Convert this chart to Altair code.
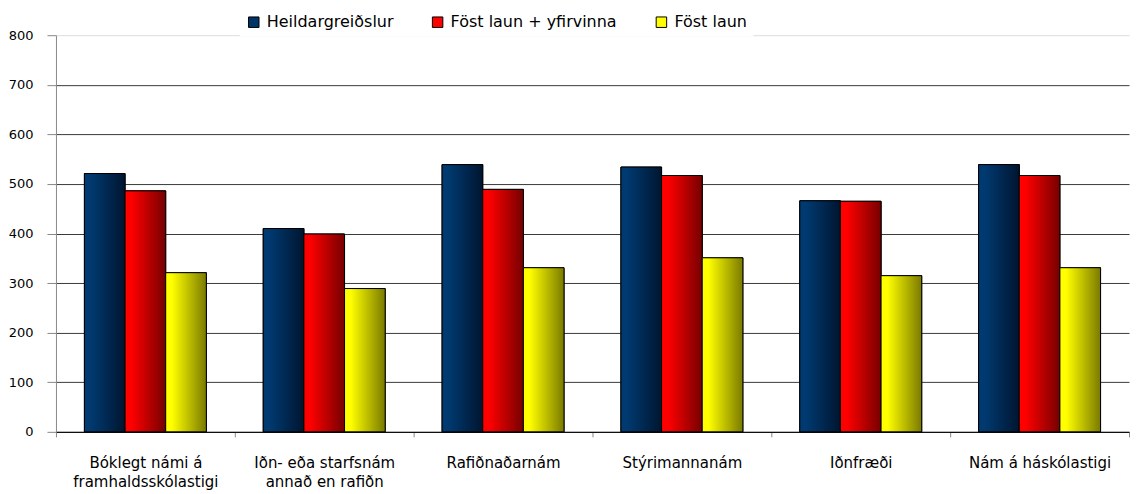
import altair as alt
import pandas as pd

categories = [
    "Bóklegt námi á|framhaldsskólastigi",
    "Iðn- eða starfsnám|annað en rafiðn",
    "Rafiðnaðarnám",
    "Stýrimannanám",
    "Iðnfræði",
    "Nám á háskólastigi",
]
series_names = ["Heildargreiðslur", "Föst laun + yfirvinna", "Föst laun"]
heildargreidslur = [521, 410, 539, 534, 466, 539]
fost_laun_yfirvinna = [486, 399, 489, 517, 465, 517]
fost_laun = [321, 289, 331, 351, 315, 331]
y_ticks = [0, 100, 200, 300, 400, 500, 600, 700, 800]

solid_colors = ["#003366", "#ff0000", "#ffff00"]
gradient_stops = [
    ("#003a70", "#001530"),
    ("#ff0000", "#760000"),
    ("#ffff00", "#7a7a00"),
]

rows = []
for name, vals in zip(series_names, [heildargreidslur, fost_laun_yfirvinna, fost_laun]):
    for c, v in zip(categories, vals):
        rows.append({"category": c, "series": name, "value": v})
df = pd.DataFrame(rows)

FONT = "DejaVu Sans"

base = alt.Chart(df).encode(
    x=alt.X(
        "category:N",
        sort=categories,
        scale=alt.Scale(paddingInner=0, paddingOuter=0),
        axis=alt.Axis(
            title=None,
            labelAngle=0,
            tickBand="extent",
            labelExpr="split(datum.label, '|')",
            labelFont=FONT,
            labelFontSize=15,
            labelLineHeight=19,
            labelColor="#000000",
            labelPadding=19,
            labelLimit=300,
            domainColor="#000000",
            tickColor="#888888",
            tickSize=5,
            grid=False,
        ),
    ),
    xOffset=alt.XOffset(
        "series:N",
        sort=series_names,
        scale=alt.Scale(domain=series_names, paddingOuter=0.7, paddingInner=0),
    ),
    y=alt.Y(
        "value:Q",
        scale=alt.Scale(domain=[0, 800]),
        axis=alt.Axis(
            title=None,
            values=y_ticks,
            labelFont=FONT,
            labelFontSize=13,
            labelColor="#000000",
            labelPadding=14,
            tickColor="#888888",
            tickSize=9,
            domainColor="#888888",
            grid=True,
            gridColor={"condition": {"test": "datum.value === 800", "value": "#dddddd"}, "value": "#3a3a3a"},
        ),
    ),
)

legend_layer = base.mark_bar(stroke="#000000", strokeWidth=1).encode(
    color=alt.Color(
        "series:N",
        sort=series_names,
        scale=alt.Scale(domain=series_names, range=solid_colors),
        legend=alt.Legend(
            title=None,
            orient="none",
            direction="horizontal",
            legendX=184,
            legendY=-27,
            fillColor="#ffffff",
            padding=6,
            labelFont=FONT,
            labelFontSize=16,
            labelColor="#000000",
            labelLimit=400,
            labelOffset=5,
            columnPadding=36,
            symbolType="square",
            symbolSize=110,
            symbolStrokeColor="#000000",
            symbolStrokeWidth=1,
            symbolOpacity=1,
        ),
    )
)

layers = [legend_layer]
for name, (c1, c2) in zip(series_names, gradient_stops):
    grad = alt.LinearGradient(
        gradient="linear",
        stops=[
            alt.GradientStop(color=c1, offset=0),
            alt.GradientStop(color=c1, offset=0.15),
            alt.GradientStop(color=c2, offset=1),
        ],
        x1=0, x2=1, y1=0, y2=0,
    )
    layers.append(
        base.transform_filter(alt.datum.series == name).mark_bar(
            fill=grad, stroke="#000000", strokeWidth=1
        )
    )

chart = (
    alt.layer(*layers)
    .properties(width=1074, height=397, padding=0, background="#ffffff")
    .configure_view(stroke=None)
)

chart.save("out.html", embed_options={"renderer": "svg", "actions": False})
